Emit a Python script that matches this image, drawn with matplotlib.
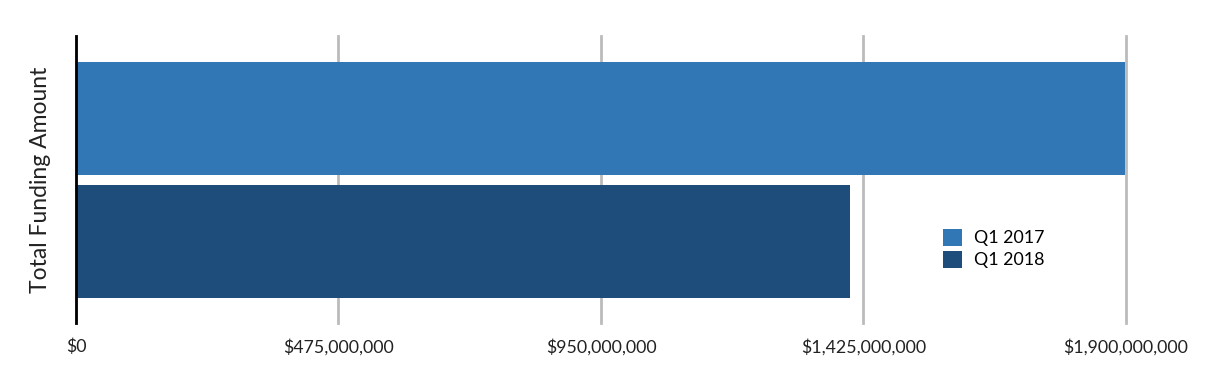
import matplotlib
matplotlib.use('Agg')
import matplotlib.pyplot as plt
from matplotlib.ticker import FuncFormatter

series = ['Q1 2017', 'Q1 2018']
values = [1898000000, 1400000000]
colors = ['#3176b5', '#1f4d7b']
ticks = [0, 475000000, 950000000, 1425000000, 1900000000]

plt.rcParams['font.family'] = ['Lato', 'DejaVu Sans']

fig = plt.figure(figsize=(12.08, 3.8), dpi=100)
ax = fig.add_axes([76/1208, 1 - 323/380, 1050/1208, 287/380])

for i, (name, v) in enumerate(zip(series, values)):
    ax.barh(i, v, height=0.915, color=colors[i], label=name, zorder=3)

ax.set_xlim(0, 1900000000)
ax.set_ylim(1.656, -0.668)
ax.set_xticks(ticks)
ax.xaxis.set_major_formatter(FuncFormatter(lambda x, p: '$' + format(int(x), ',')))
ax.set_yticks([])
ax.tick_params(axis='x', length=0, pad=11, labelsize=12.8, colors='#222222')
ax.grid(axis='x', color='#bbbbbb', linewidth=2, zorder=0)
for gl in ax.get_xgridlines():
    gl.set_clip_on(False)
for s in ['top', 'right', 'bottom']:
    ax.spines[s].set_visible(False)
ax.spines['left'].set_linewidth(2)
ax.spines['left'].set_color('black')
ax.spines['left'].set_zorder(5)
ax.set_ylabel('Total Funding Amount', fontsize=16.5, color='#222222', labelpad=18)

ax.legend(loc='center left', bbox_to_anchor=(0.81, 0.26), frameon=False,
          fontsize=12.8, handlelength=1.1, handleheight=1.1, handletextpad=0.7,
          labelspacing=0.25)

fig.savefig('out.png', dpi=100)
